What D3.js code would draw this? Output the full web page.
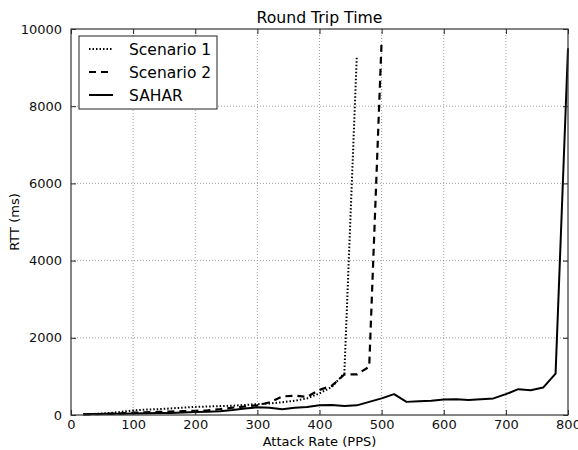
<!DOCTYPE html>
<html><head><meta charset="utf-8">
<script src="https://cdn.jsdelivr.net/npm/d3@7"></script>
<style>body{margin:0;background:#fff}svg{display:block;font-family:"DejaVu Sans",sans-serif}</style>
</head><body><svg id="c" width="578" height="450"></svg>
<script>
const rate1 = [20,40,60,80,100,120,140,160,180,200,220,240,260,280,300,320,340,360,380,400,420,440,460];
const scenario1 = [20,30,50,80,120,140,150,170,190,210,220,230,240,260,280,300,330,370,430,560,730,1080,9280];
const rate2 = [20,40,60,80,100,120,140,160,180,200,220,240,260,280,300,320,340,360,380,400,420,440,460,480,500];
const scenario2 = [15,20,30,40,60,70,80,90,100,110,120,150,190,220,250,330,480,500,470,650,760,1050,1050,1250,9700];
const rate3 = [20,40,60,80,100,120,140,160,180,200,220,240,260,280,300,320,340,360,380,400,420,440,460,480,500,520,540,560,580,600,620,640,660,680,700,720,740,760,780,800];
const sahar = [20,25,30,35,40,45,50,55,65,75,85,100,130,170,200,190,150,190,210,250,260,235,250,340,430,540,340,355,370,400,410,390,410,430,540,670,640,710,1070,9500];
const xTicks = [0,100,200,300,400,500,600,700,800];
const yTicks = [0,2000,4000,6000,8000,10000];
const seriesNames = ["Scenario 1","Scenario 2","SAHAR"];

const svg = d3.select("#c");
const L=71, R=568, T=29, B=415;
const x = d3.scaleLinear().domain([0,800]).range([L,R]);
const y = d3.scaleLinear().domain([0,10000]).range([B,T]);

// grid
const g = svg.append("g");
g.selectAll(".gx").data(xTicks.slice(1,-1)).enter().append("line")
 .attr("x1",d=>x(d)).attr("x2",d=>x(d)).attr("y1",T).attr("y2",B)
 .attr("stroke","#888").attr("stroke-width",0.8).attr("stroke-dasharray","1,2");
g.selectAll(".gy").data(yTicks.slice(1,-1)).enter().append("line")
 .attr("y1",d=>y(d)).attr("y2",d=>y(d)).attr("x1",L).attr("x2",R)
 .attr("stroke","#888").attr("stroke-width",0.8).attr("stroke-dasharray","1,2");

const styles = [
 {dash:"1.5,2", w:2},
 {dash:"7,5", w:2.2},
 {dash:null, w:2}
];
const datasets = [[rate1,scenario1],[rate2,scenario2],[rate3,sahar]];
const line = d3.line().x(d=>x(d[0])).y(d=>y(d[1]));
datasets.forEach((ds,i)=>{
  const pts = ds[0].map((r,j)=>[r,ds[1][j]]);
  const p = svg.append("path").datum(pts).attr("d",line).attr("fill","none")
   .attr("stroke","#000").attr("stroke-width",styles[i].w).attr("stroke-linejoin","round");
  if(styles[i].dash) p.attr("stroke-dasharray",styles[i].dash);
});

// axes
const xa = svg.append("g").attr("transform",`translate(0,${B})`)
 .call(d3.axisBottom(x).tickValues(xTicks).tickSize(-5).tickPadding(5).tickFormat(d3.format("d")));
const xt = svg.append("g").attr("transform",`translate(0,${T})`)
 .call(d3.axisTop(x).tickValues(xTicks).tickSize(-5).tickFormat(""));
const ya = svg.append("g").attr("transform",`translate(${L},0)`)
 .call(d3.axisLeft(y).tickValues(yTicks).tickSize(-5).tickPadding(9).tickFormat(d3.format("d")));
const yr = svg.append("g").attr("transform",`translate(${R},0)`)
 .call(d3.axisRight(y).tickValues(yTicks).tickSize(-5).tickFormat(""));
[xa,xt,ya,yr].forEach(a=>{
  a.select(".domain").remove();
  a.selectAll("line").attr("stroke","#222");
  a.selectAll("text").attr("font-size",13).attr("fill","#111").attr("font-family","DejaVu Sans");
});
svg.append("rect").attr("x",L).attr("y",T).attr("width",R-L).attr("height",B-T)
 .attr("fill","none").attr("stroke","#333").attr("stroke-width",1.2);

// titles
svg.append("text").attr("x",(L+R)/2).attr("y",23).attr("text-anchor","middle")
 .attr("font-size",15.7).attr("fill","#000").text("Round Trip Time");
svg.append("text").attr("x",(L+R)/2).attr("y",446).attr("text-anchor","middle")
 .attr("font-size",13).attr("fill","#000").text("Attack Rate (PPS)");
svg.append("text").attr("transform",`translate(19,${(T+B)/2}) rotate(-90)`).attr("text-anchor","middle")
 .attr("font-size",13).attr("fill","#000").text("RTT (ms)");

// legend
const lg = svg.append("g");
lg.append("rect").attr("x",79).attr("y",36).attr("width",138).attr("height",73)
 .attr("fill","#fff").attr("stroke","#222").attr("stroke-width",1);
seriesNames.forEach((n,i)=>{
  const yy = 49 + i*23;
  const l = lg.append("line").attr("x1",89).attr("x2",113).attr("y1",yy).attr("y2",yy)
   .attr("stroke","#000").attr("stroke-width",styles[i].w);
  if(styles[i].dash) l.attr("stroke-dasharray",styles[i].dash);
  lg.append("text").attr("x",129).attr("y",yy+5.5).attr("font-size",15.5).attr("fill","#000").text(n);
});
</script></body></html>
